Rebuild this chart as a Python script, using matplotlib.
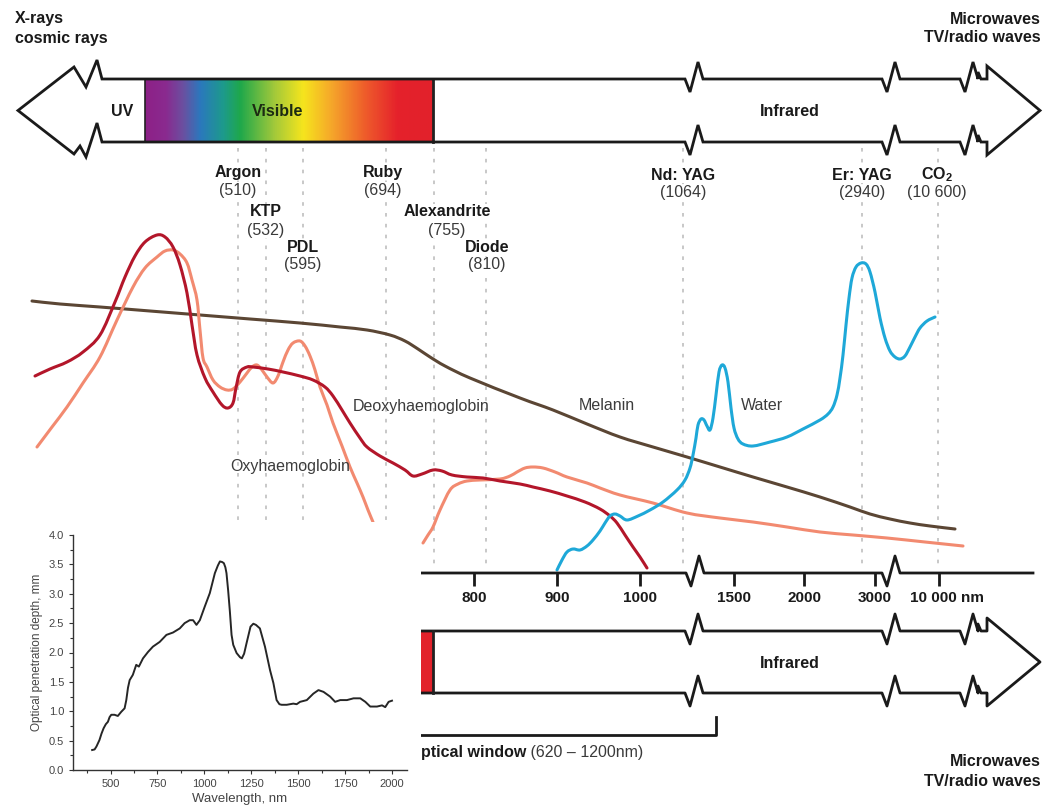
import numpy as np
import matplotlib.pyplot as plt
from matplotlib.patches import Rectangle, Polygon, PathPatch
from matplotlib.path import Path
from matplotlib.colors import LinearSegmentedColormap
from matplotlib.ticker import MultipleLocator

plt.rcParams['font.family'] = ['Liberation Sans', 'DejaVu Sans']
plt.rcParams['mathtext.fontset'] = 'custom'
plt.rcParams['mathtext.rm'] = 'Liberation Sans'
plt.rcParams['mathtext.bf'] = 'Liberation Sans:bold'

W, H = 1047, 811

# absorption curves, traced on the drawing canvas (x px, y px; y grows downward)
melanin_x = [32, 60, 100, 150, 200, 250, 300, 340, 367, 390, 405, 418, 430, 445, 470, 520,
             553, 587, 620, 653, 687, 720, 753, 787, 820, 850, 870, 890, 910, 930, 955]
melanin_y = [301, 304, 307, 311, 315, 319, 323, 327, 330, 335, 341, 349, 357, 366, 378, 398,
             410, 424, 437, 447, 457, 467, 477, 487, 497, 507, 514, 519, 523, 526, 529]

deoxy_x = [35, 50, 67, 83, 100, 115, 125, 135, 145, 157, 165, 173, 180, 187, 192, 197, 205,
           213, 222, 228, 233, 236, 240, 247, 253, 268, 283, 300, 313, 325, 333, 342, 350,
           360, 367, 380, 393, 405, 413, 422, 433, 442, 452, 467, 483, 500, 520, 533, 550,
           567, 585, 600, 610, 617, 625, 633, 640, 647]
deoxy_y = [376, 369, 362, 352, 335, 302, 277, 256, 242, 235, 237, 247, 265, 293, 325, 355, 378,
           392, 405, 408, 403, 388, 372, 367, 367, 369, 372, 376, 380, 387, 396, 410, 423,
           438, 447, 456, 463, 470, 476, 474, 470, 471, 475, 477, 478, 481, 484, 487, 491,
           496, 502, 509, 516, 523, 535, 547, 557, 568]

oxy_a_x = [37, 52, 67, 83, 100, 117, 133, 145, 157, 165, 173, 180, 187, 192, 197, 200, 203,
           207, 213, 220, 227, 233, 240, 247, 252, 257, 262, 267, 273, 278, 283, 288, 293,
           300, 305, 310, 315, 320, 327, 333, 342, 350, 357, 363, 368, 373]
oxy_a_y = [447, 427, 407, 383, 357, 320, 287, 268, 257, 251, 250, 254, 263, 280, 300, 330, 358,
           367, 380, 387, 390, 389, 382, 373, 367, 365, 370, 377, 383, 376, 362, 350, 343,
           341, 346, 356, 370, 387, 405, 423, 446, 467, 483, 497, 510, 522]
oxy_b_x = [423, 428, 433, 440, 450, 458, 467, 480, 500, 510, 517, 525, 533, 543, 555, 567,
           587, 600, 620, 653, 687, 720, 753, 787, 820, 853, 887, 925, 963]
oxy_b_y = [543, 535, 527, 510, 490, 484, 481, 480, 479, 476, 472, 468, 467, 468, 472, 477,
           483, 488, 495, 503, 513, 518, 522, 527, 532, 535, 538, 542, 546]

water_x = [557, 562, 567, 573, 580, 587, 593, 600, 605, 610, 615, 620, 627, 638, 650, 663,
           677, 685, 690, 693, 696, 698, 701, 704, 707, 710, 713, 716, 719, 722, 725, 728,
           731, 734, 738, 743, 753, 770, 787, 803, 820, 828, 833, 837, 840, 843, 846, 849,
           852, 856, 861, 866, 870, 875, 880, 885, 890, 895, 900, 905, 910, 915, 920, 927, 935]
water_y = [570, 560, 552, 549, 550, 546, 540, 531, 523, 516, 514, 516, 520, 516, 510, 502,
           490, 480, 468, 455, 438, 425, 419, 420, 426, 430, 418, 395, 372, 365, 368, 382,
           408, 428, 439, 444, 446, 442, 437, 429, 420, 414, 407, 395, 378, 355, 325, 298,
           278, 267, 263, 264, 272, 292, 318, 338, 351, 357, 359, 356, 347, 337, 328, 321, 317]

# lasers: name, wavelength label, dotted-line x, label x, name y
laser_names = ['Argon', 'KTP', 'PDL', 'Ruby', 'Alexandrite', 'Diode', 'Nd: YAG', 'Er: YAG',
               r'CO$_\mathbf{2}$']
laser_nm = ['(510)', '(532)', '(595)', '(694)', '(755)', '(810)', '(1064)', '(2940)', '(10 600)']
laser_px = [238, 266, 303, 386, 434, 486, 683, 862, 938]
laser_lx = [238, 266, 303, 383, 447, 487, 683, 862, 937]
laser_ly = [172, 212, 247, 172, 212, 247, 175, 175, 175]

# wavelength axis
axis_tick_px = [474, 557, 640, 734, 804, 875, 939]
axis_tick_lbl = ['800', '900', '1000', '1500', '2000', '3000', '10 000 nm']

# inset: optical penetration depth
depth_nm = [402, 415, 425, 441, 452, 463, 475, 486, 495, 504, 521, 539, 557, 575, 584, 593,
            602, 619, 637, 651, 673, 700, 726, 762, 798, 833, 869, 895, 922, 940, 958, 976,
            1002, 1029, 1056, 1072, 1083, 1095, 1104, 1112, 1118, 1127, 1136, 1145, 1154,
            1172, 1190, 1200, 1212, 1225, 1246, 1261, 1275, 1296, 1323, 1350, 1368, 1385,
            1400, 1412, 1439, 1474, 1492, 1510, 1546, 1581, 1608, 1635, 1670, 1697, 1724,
            1760, 1795, 1831, 1858, 1884, 1920, 1947, 1964, 1982, 2000]
depth_mm = [0.34, 0.35, 0.40, 0.51, 0.62, 0.71, 0.78, 0.82, 0.90, 0.94, 0.94, 0.92, 0.99,
            1.05, 1.19, 1.40, 1.53, 1.62, 1.79, 1.76, 1.90, 2.01, 2.10, 2.18, 2.30, 2.34,
            2.41, 2.50, 2.55, 2.55, 2.47, 2.55, 2.78, 3.01, 3.35, 3.48, 3.55, 3.54, 3.52,
            3.45, 3.35, 3.05, 2.70, 2.30, 2.13, 1.99, 1.92, 1.90, 1.98, 2.16, 2.44, 2.49,
            2.47, 2.41, 2.10, 1.70, 1.48, 1.19, 1.12, 1.11, 1.11, 1.13, 1.12, 1.16, 1.19,
            1.30, 1.36, 1.33, 1.25, 1.16, 1.19, 1.19, 1.22, 1.22, 1.16, 1.08, 1.08, 1.10,
            1.07, 1.16, 1.18]

fig = plt.figure(figsize=(W / 100, H / 100), dpi=100)
ax = fig.add_axes([0, 0, 1, 1])


def brk(x0, y):
    # zig-zag break mark on a horizontal line
    return [(x0, y), (x0 + 5, y + 13), (x0 + 13, y - 17), (x0 + 18, y)]


def brk_rev(x0, y):
    return brk(x0, y)[::-1]


def smooth_curve(xs, ys, color):
    # Bezier path through the traced points (Catmull-Rom tangents)
    p = np.column_stack([xs, ys]).astype(float)
    verts = [p[0]]
    codes = [Path.MOVETO]
    n = len(p)
    for i in range(n - 1):
        p0 = p[i - 1] if i > 0 else p[i]
        p3 = p[i + 2] if i + 2 < n else p[i + 1]
        c1 = p[i] + (p[i + 1] - p0) / 6
        c2 = p[i + 1] - (p3 - p[i]) / 6
        verts += [c1, c2, p[i + 1]]
        codes += [Path.CURVE4] * 3
    ax.add_patch(PathPatch(Path(verts, codes), fill=False, edgecolor=color, lw=2.2,
                           capstyle='round', joinstyle='round', zorder=3))


# ---- top spectrum arrow ----
spec_pos = [0.0, 0.07, 0.13, 0.19, 0.27, 0.33, 0.45, 0.55, 0.65, 0.77, 0.88, 1.0]
spec_col = ['#8d2187', '#8a2a8f', '#6b4fa0', '#2b78bd', '#1d9a8c', '#1fa84b', '#a3c93a',
            '#f6e51d', '#f5a62a', '#ee5a2b', '#e5212b', '#e2222b']
cmap = LinearSegmentedColormap.from_list('spec', list(zip(spec_pos, spec_col)))
grad = np.linspace(0, 1, 400)[None, :]
ax.imshow(grad, cmap=cmap, extent=[145, 433, 142, 79], aspect='auto', zorder=2)
ax.plot([433, 433], [79, 142], color='#222', lw=2, zorder=3)
ax.plot([145, 145], [79, 142], color='#222', lw=1.2, zorder=3)


def arrow_outline(ty, by, left_head):
    cy = (ty + by) / 2
    top = []
    if left_head:
        top += [(18, cy), (74, ty - 12), (86, ty + 8), (97, ty - 19), (102, ty)]
    else:
        top += [(405, ty)]
    top += brk(685, ty) + brk(882, ty) + brk(960, ty)
    top += [(978, ty - 7), (981, ty), (987, ty), (987, ty - 13), (1040, cy),
            (987, by + 13), (987, by), (981, by), (978, by - 7)]
    bot = brk_rev(960, by) + brk_rev(882, by) + brk_rev(685, by)
    if left_head:
        bot += [(102, by), (97, by - 19), (86, by + 15), (80, by + 4), (74, by + 12), (18, cy)]
    else:
        bot += [(405, by)]
    return top + bot


tv = arrow_outline(79, 142, True)
ax.add_patch(Polygon(tv, closed=True, fill=False, edgecolor='#1a1a1a', lw=2,
                     joinstyle='miter', zorder=3))
bv = arrow_outline(631, 693, False)
ax.plot([p[0] for p in bv], [p[1] for p in bv], color='#1a1a1a', lw=2, zorder=3)
ax.add_patch(Rectangle((405, 631), 28, 62, facecolor='#e2222b', edgecolor='none', zorder=2))
ax.plot([433, 433], [631, 693], color='#222', lw=2, zorder=3)

bold = dict(fontweight='bold', fontsize=11.5, color='#1a1a1a')
ax.text(15, 19, 'X-rays', ha='left', va='center', **bold)
ax.text(15, 38, 'cosmic rays', ha='left', va='center', **bold)
ax.text(1041, 19, 'Microwaves', ha='right', va='center', **bold)
ax.text(1041, 38, 'TV/radio waves', ha='right', va='center', **bold)
ax.text(1041, 761, 'Microwaves', ha='right', va='center', **bold)
ax.text(1041, 781, 'TV/radio waves', ha='right', va='center', **bold)
ax.text(122, 111, 'UV', ha='center', va='center', **bold)
ax.text(278, 111, 'Visible', ha='center', va='center', fontweight='bold', fontsize=11.5,
        color='#1c2a12', zorder=4)
ax.text(790, 111, 'Infrared', ha='center', va='center', **bold)
ax.text(790, 663, 'Infrared', ha='center', va='center', **bold)

# ---- laser lines and labels ----
ax.vlines(laser_px, 148, 566, colors='#c4c4c4', linestyles=(0, (2, 4)), lw=1.3, zorder=1)
wb = dict(facecolor='white', edgecolor='none', pad=0.5)
for name, nm, lx, ly in zip(laser_names, laser_nm, laser_lx, laser_ly):
    ax.text(lx, ly, name, ha='center', va='center', bbox=wb, zorder=2, **bold)
    ax.text(lx, ly + 18, nm, ha='center', va='center', fontsize=11.5, color='#3a3a3a',
            bbox=wb, zorder=2)

# ---- absorption curves ----
smooth_curve(melanin_x, melanin_y, '#5b4634')
smooth_curve(oxy_a_x, oxy_a_y, '#f28a70')
smooth_curve(oxy_b_x, oxy_b_y, '#f28a70')
smooth_curve(deoxy_x, deoxy_y, '#b3162a')
smooth_curve(water_x, water_y, '#1ea8d8')

lab = dict(fontsize=11.5, color='#3c3c3c', ha='center', va='center', zorder=4)
ax.text(290, 467, 'Oxyhaemoglobin', **lab)
ax.text(421, 407, 'Deoxyhaemoglobin', **lab)
ax.text(607, 406, 'Melanin', **lab)
ax.text(762, 406, 'Water', **lab)

# ---- wavelength axis ----
av = [(405, 573)] + brk(686, 573) + brk(882, 573) + [(1033, 573)]
ax.plot([p[0] for p in av], [p[1] for p in av], color='#1a1a1a', lw=2, zorder=3)
ax.vlines(axis_tick_px, 573, 586, colors='#1a1a1a', lw=2, zorder=3)
for px, t in zip(axis_tick_px, axis_tick_lbl):
    if t.endswith('nm'):
        ax.text(px - 29, 598, t, ha='left', va='center', fontweight='bold', fontsize=11,
                color='#1a1a1a')
    else:
        ax.text(px, 598, t, ha='center', va='center', fontweight='bold', fontsize=11,
                color='#1a1a1a')

# ---- optical window bracket ----
ax.plot([405, 716, 716], [735, 735, 717], color='#1a1a1a', lw=2, zorder=3)
t1 = ax.text(421, 752, 'ptical window', ha='left', va='center', fontweight='bold',
             fontsize=11.5, color='#1a1a1a')
ax.annotate(' (620 \u2013 1200nm)', xy=(1, 0.5), xycoords=t1, ha='left', va='center',
            fontsize=11.5, color='#3a3a3a')

# white panel that the inset sits on
ax.add_patch(Rectangle((0, 522), 421, H - 522, facecolor='white', edgecolor='none', zorder=6))

ax.set_xlim(0, W)
ax.set_ylim(H, 0)
ax.axis('off')

# ---- inset: optical penetration depth ----
ins = fig.add_axes([73 / W, (H - 770) / H, (407 - 73) / W, (770 - 535) / H], zorder=7)
ins.patch.set_alpha(0)
ins.plot(depth_nm, depth_mm, color='#262626', lw=1.4)
ins.set_xlim(300, 2080)
ins.set_ylim(0, 4.0)
ins.xaxis.set_major_locator(MultipleLocator(250))
ins.xaxis.set_minor_locator(MultipleLocator(125))
ins.yaxis.set_major_locator(MultipleLocator(0.5))
ins.yaxis.set_minor_locator(MultipleLocator(0.25))
ins.yaxis.set_major_formatter(plt.FormatStrFormatter('%.1f'))
for s in ('top', 'right'):
    ins.spines[s].set_visible(False)
for s in ('left', 'bottom'):
    ins.spines[s].set_color('#333')
    ins.spines[s].set_linewidth(1)
ins.tick_params(which='major', length=3, width=0.8, colors='#333', labelsize=8,
                labelcolor='#444')
ins.tick_params(which='minor', length=2, width=0.8, colors='#333')
ins.set_ylabel('Optical penetration depth, mm', fontsize=8.5, color='#444', labelpad=4)
ins.set_xlabel('Wavelength, nm', fontsize=9.5, color='#444', labelpad=3)

fig.savefig('out.png', dpi=100)
